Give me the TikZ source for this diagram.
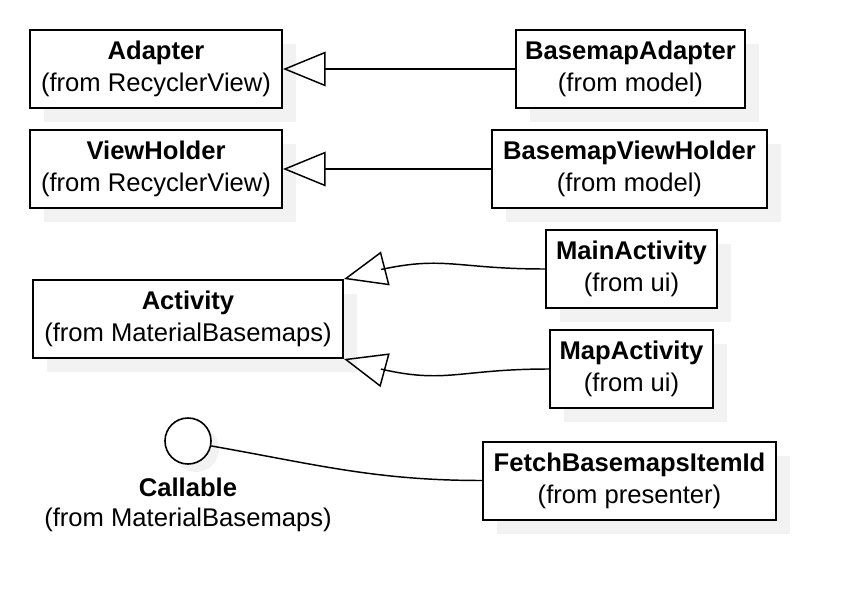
\documentclass[tikz,border=0pt]{standalone}
\usepackage{fontspec}
\setmainfont{Liberation Sans}
\usepackage{tikz}
\usetikzlibrary{arrows.meta, bending, positioning, shadows}

\definecolor{shadegray}{HTML}{F2F2F2}

\tikzset{
    cls/.style = {draw, fill=white, line width=1.5pt, inner sep=0pt,
        minimum height=58.5pt, align=center,
        font=\fontsize{19.2}{24}\selectfont,
        drop shadow={shadow xshift=10.5pt, shadow yshift=-10.5pt, fill=shadegray, opacity=1}},
    iface/.style = {circle, draw, fill=white, line width=1.2pt, inner sep=0pt,
        minimum size=34.5pt,
        drop shadow={shadow xshift=6pt, shadow yshift=-6pt, fill=shadegray, opacity=1}},
    inherit/.style = {-{Triangle[open, length=32pt, width=26pt, flex]}, line width=1.1pt}
}

\begin{document}
\begin{tikzpicture}[x=0.75pt, y=0.75pt]
    \useasboundingbox (0,0) rectangle (846,-614);

    \node (ad)  [cls, minimum width=189pt] at (156,-69)  {\textbf{Adapter}\\(from RecyclerView)};
    \node (bad) [cls, minimum width=171.75pt] at (630.5,-69) {\textbf{BasemapAdapter}\\(from model)};

    \node (vh)  [cls, minimum width=189pt] at (156,-169) {\textbf{ViewHolder}\\(from RecyclerView)};
    \node (bvh) [cls, minimum width=206.25pt] at (629.5,-169) {\textbf{BasemapViewHolder}\\(from model)};

    \node (act)  [cls, minimum width=232.5pt] at (188,-319) {\textbf{Activity}\\(from MaterialBasemaps)};
    \node (main) [cls, minimum width=128.25pt] at (631.5,-269) {\textbf{MainActivity}\\(from ui)};
    \node (map)  [cls, minimum width=122.25pt] at (631.5,-369) {\textbf{MapActivity}\\(from ui)};

    \node (call) [iface] at (188,-441) {};
    \node (calltext) [align=center, font=\fontsize{19.2}{22.5}\selectfont] at (188,-505)
        {\textbf{Callable}\\(from MaterialBasemaps)};
    \node (fetch) [cls, minimum width=219.75pt] at (629.5,-480.5) {\textbf{FetchBasemapsItemId}\\(from presenter)};

\path [inherit]
    (bad)  edge (ad)
    (bvh)  edge (vh)
    (main.west) edge [out=180, in=16, looseness=1.3]  (act.north east)
    (map.west)  edge [out=180, in=-17, looseness=1.3] (act.south east);

\path [line width=1.1pt]
    (call.-12) edge [out=-10, in=180] (fetch.west);

\end{tikzpicture}
\end{document}
